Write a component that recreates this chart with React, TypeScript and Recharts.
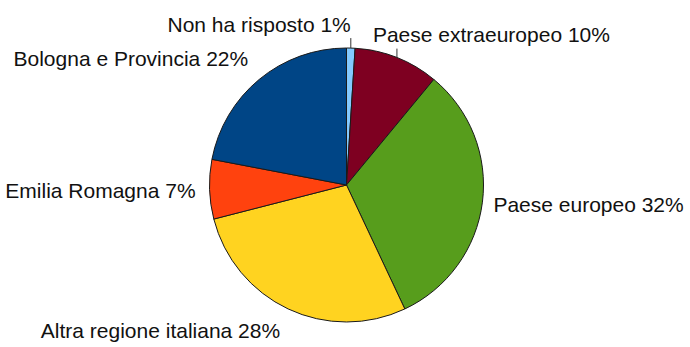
import { Cell, Pie, PieChart } from 'recharts'

const categories = [
  'Non ha risposto',
  'Paese extraeuropeo',
  'Paese europeo',
  'Altra regione italiana',
  'Emilia Romagna',
  'Bologna e Provincia',
]
const shares = [1, 10, 32, 28, 7, 22]
const colors = ['#83caff', '#7e0021', '#579d1c', '#ffd320', '#ff420e', '#004586']

const data = categories.map((name, i) => ({ name, value: shares[i] }))

// where each label sits relative to the rim point at its slice's mid angle
const labelLayout: Record<string, { anchor: 'start' | 'end'; dx: number; dy: number; leader?: number }> = {
  'Non ha risposto': { anchor: 'end', dx: 0, dy: -16, leader: 10 },
  'Paese extraeuropeo': { anchor: 'start', dx: -24, dy: -16, leader: 9 },
  'Paese europeo': { anchor: 'start', dx: 11, dy: 10 },
  'Altra regione italiana': { anchor: 'end', dx: -8, dy: 29 },
  'Emilia Romagna': { anchor: 'end', dx: -14, dy: 9 },
  'Bologna e Provincia': { anchor: 'end', dx: -11, dy: -13 },
}

const RAD = Math.PI / 180

function SliceLabel(props: any) {
  const { cx, cy, midAngle, outerRadius, name, value } = props
  const ex = cx + outerRadius * Math.cos(-midAngle * RAD)
  const ey = cy + outerRadius * Math.sin(-midAngle * RAD)
  const l = labelLayout[name]
  return (
    <g>
      {l.leader ? (
        <line x1={ex} y1={ey} x2={ex} y2={ey - l.leader} stroke="#333" strokeWidth={1} />
      ) : null}
      <text
        x={ex + l.dx}
        y={ey + l.dy}
        textAnchor={l.anchor}
        fill="#111"
        fontSize={21}
        fontFamily="'Liberation Sans', Arial, sans-serif"
      >
        {`${name} ${value}%`}
      </text>
    </g>
  )
}

export default function App() {
  return (
    <div style={{ position: 'absolute', left: 0, top: 0, background: '#fff' }}>
      <PieChart width={690} height={347} margin={{ top: 0, right: 0, bottom: 0, left: 0 }}>
        <Pie
          data={data}
          dataKey="value"
          nameKey="name"
          cx={346.5}
          cy={185}
          outerRadius={137}
          startAngle={90}
          endAngle={-270}
          stroke="#1a1a1a"
          strokeWidth={1}
          label={SliceLabel}
          labelLine={false}
          isAnimationActive={false}
        >
          {data.map((d, i) => (
            <Cell key={d.name} fill={colors[i]} />
          ))}
        </Pie>
      </PieChart>
    </div>
  )
}
